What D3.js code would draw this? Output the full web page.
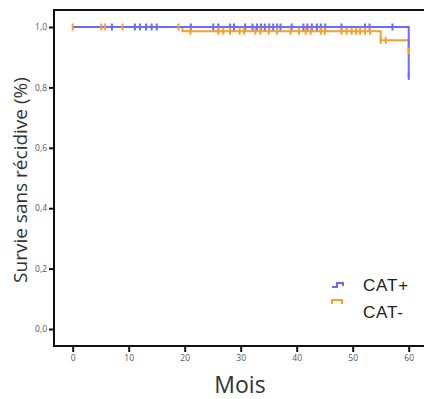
<!DOCTYPE html>
<html>
<head>
<meta charset="utf-8">
<script src="https://cdn.jsdelivr.net/npm/d3@7/dist/d3.min.js"></script>
<style>
  body { margin: 0; background: #fff; }
  svg { display: block; }
</style>
</head>
<body>
<svg id="chart" width="424" height="399"></svg>
<script>
// data
const monthTicks = [0, 10, 20, 30, 40, 50, 60];
const survTicks = [0, 0.2, 0.4, 0.6, 0.8, 1.0];

// step points (time, survival)
const catPlusT = [0, 60];
const catPlusS = [1.0, 0.836];
const catMinusT = [0, 19.6, 55, 60];
const catMinusS = [1.0, 0.986, 0.956, 0.921];

// censored times
const catPlusCensor = [7.0, 11.1, 12.0, 13.1, 14.1, 15.0, 21.1, 25.1, 26.0, 28.1, 28.8, 30.8,
  32.1, 32.9, 33.6, 34.3, 35.1, 35.8, 36.5, 37.1, 39.1, 41.2, 41.9, 42.7, 43.6, 44.3, 45.1,
  48.0, 52.2, 53.0, 57.1, 60];
const catMinusCensor = [0, 5.1, 5.8, 8.9, 18.9, 21.0, 26.0, 26.9, 28.1, 29.8, 30.6, 32.6,
  33.5, 35.0, 36.5, 38.9, 40.4, 41.6, 42.5, 44.3, 45.0, 48.0, 48.9, 49.8, 50.6, 51.3, 52.2,
  53.1, 55.0, 55.9, 60];

const legendLabels = ['CAT+', 'CAT-'];
const blue = '#6b6bf7';
const orange = '#f7a02c';

const svg = d3.select('#chart');

const x = d3.scaleLinear().domain([0, 60]).range([72.7, 408.7]);
const y = d3.scaleLinear().domain([0, 1]).range([329, 27]);

const fmt = d => d3.format('.1f')(d).replace('.', ',');

// frame
const frame = svg.append('g').attr('stroke', '#111').attr('stroke-width', 2).attr('fill', 'none');
frame.append('path').attr('d', 'M424,10H54V346H424');

// y axis
const yAxis = svg.append('g')
  .attr('transform', 'translate(54,0)')
  .call(d3.axisLeft(y).tickValues(survTicks).tickFormat(fmt).tickSize(5).tickPadding(2));
yAxis.select('.domain').remove();
yAxis.selectAll('line').attr('stroke', '#111').attr('stroke-width', 2);
yAxis.selectAll('text').attr('fill', '#555').attr('font-size', 8.5)
  .attr('font-family', 'Open Sans, sans-serif');

// x axis
const xAxis = svg.append('g')
  .attr('transform', 'translate(0,346)')
  .call(d3.axisBottom(x).tickValues(monthTicks).tickSize(6).tickPadding(3));
xAxis.select('.domain').remove();
xAxis.selectAll('line').attr('stroke', '#111').attr('stroke-width', 2);
xAxis.selectAll('text').attr('fill', '#555').attr('font-size', 8.5)
  .attr('font-family', 'Open Sans, sans-serif');

// step function helper
function survAt(ts, ss, t) {
  let s = ss[0];
  for (let i = 0; i < ts.length; i++) if (ts[i] <= t) s = ss[i];
  return s;
}

const line = d3.line().x(d => x(d[0])).y(d => y(d[1])).curve(d3.curveStepAfter);

function drawCurve(ts, ss, color) {
  svg.append('path')
    .datum(ts.map((t, i) => [t, ss[i]]))
    .attr('d', line)
    .attr('fill', 'none')
    .attr('stroke', color)
    .attr('stroke-width', 2);
}

function drawCensor(ts, ss, times, color) {
  svg.append('g').selectAll('line')
    .data(times)
    .join('line')
    .attr('x1', d => x(d)).attr('x2', d => x(d))
    .attr('y1', d => y(survAt(ts, ss, d)) - 3.5)
    .attr('y2', d => y(survAt(ts, ss, d)) + 3.5)
    .attr('stroke', color)
    .attr('stroke-width', 2);
}

drawCurve(catMinusT, catMinusS, orange);
drawCurve(catPlusT, catPlusS, blue);
drawCensor(catPlusT, catPlusS, catPlusCensor, blue);
drawCensor(catMinusT, catMinusS, catMinusCensor, orange);

// axis titles
svg.append('text')
  .attr('transform', 'translate(27,180) rotate(-90)')
  .attr('text-anchor', 'middle')
  .attr('font-family', 'Open Sans, sans-serif')
  .attr('font-size', 19)
  .attr('fill', '#333')
  .text('Survie sans récidive (%)');

svg.append('text')
  .attr('x', 240).attr('y', 393)
  .attr('text-anchor', 'middle')
  .attr('font-family', 'Open Sans, sans-serif')
  .attr('font-size', 23)
  .attr('fill', '#333')
  .text('Mois');

// legend
const legend = svg.append('g');
legend.append('path').attr('d', 'M332,287H337V283H343V286')
  .attr('fill', 'none').attr('stroke', blue).attr('stroke-width', 2);
legend.append('path').attr('d', 'M332,304V300H342V304')
  .attr('fill', 'none').attr('stroke', orange).attr('stroke-width', 2);
legend.selectAll('text')
  .data(legendLabels)
  .join('text')
  .attr('x', 363)
  .attr('y', (d, i) => 291 + i * 27)
  .attr('font-family', 'Liberation Sans, Arial, sans-serif')
  .attr('font-size', 17)
  .attr('letter-spacing', 0.8)
  .attr('fill', '#222')
  .text(d => d);
</script>
</body>
</html>
